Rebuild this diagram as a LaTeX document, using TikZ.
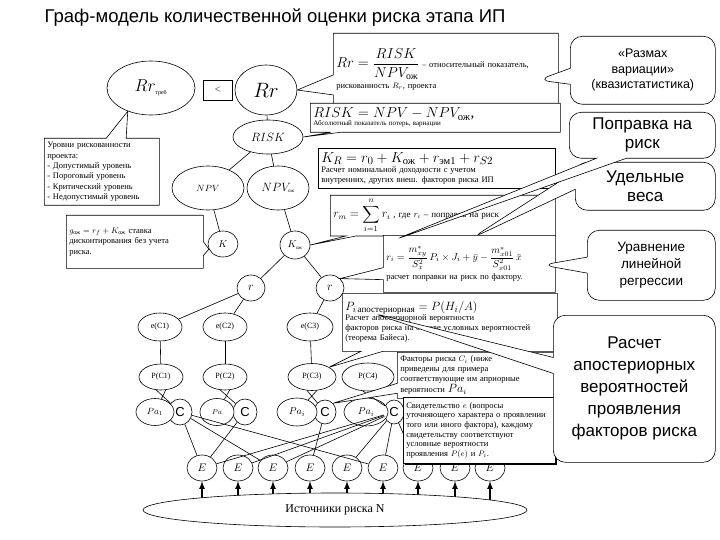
\documentclass[tikz,border=0pt]{standalone}
\usepackage{amsmath}
\usepackage{fontspec}
\setmainfont{Liberation Serif}
\setsansfont{Liberation Sans}
\usetikzlibrary{shapes.geometric,shapes.callouts,shadows}
\newcommand\smtxt{\fontsize{8.5}{10}\selectfont}

\begin{document}
\begin{tikzpicture}
  [x=1pt,y=-1pt,line width=.6pt,
   el/.style={ellipse,draw,fill=white,inner sep=0pt},
   plainbox/.style={rectangle,draw,fill=white,align=left,inner sep=3pt,anchor=north west,font=\smtxt},
   cbox/.style={rectangle callout,draw,fill=white,align=left,inner sep=3pt,anchor=north west,font=\smtxt},
   bubble/.style={rectangle callout,draw,fill=white,rounded corners=12pt,align=center,
     inner sep=4pt,anchor=north west},
   arr/.style={-latex,line width=1.6pt}]
  \useasboundingbox (0,0) rectangle (720,540);

  \node[font=\sffamily\fontsize{18.5}{20}\selectfont] (title) at (275,18)
    {Граф-модель количественной оценки риска этапа ИП};

  % upper part of the tree
  \node[el,minimum width=88pt,minimum height=54pt] (rt) at (151,88)
    {\fontsize{16}{16}\selectfont $Rr_{\text{\fontsize{6}{6}\selectfont треб}}$};
  \node[draw,fill=white,minimum width=29pt,minimum height=20pt] (lt) at (218,90)
    {\fontsize{8}{8}\selectfont $<$};
  \node[el,minimum width=62pt,minimum height=50pt] (rr) at (266,90)
    {\fontsize{20}{20}\selectfont $Rr$};
  \node[el,minimum width=70pt,minimum height=34pt] (risk) at (268,137)
    {\fontsize{13}{13}\selectfont $RISK$};
  \node[el,minimum width=72pt,minimum height=44pt] (npv) at (208,188)
    {\fontsize{9}{9}\selectfont $NPV$};
  \node[el,minimum width=62pt,minimum height=44pt] (npvo) at (278,188)
    {\fontsize{13}{13}\selectfont $NPV_{\text{\tiny ож}}$};
  \node[el,minimum width=30pt,minimum height=26pt] (k1) at (223,244)
    {\fontsize{10}{10}\selectfont $K$};
  \node[el,minimum width=30pt,minimum height=28pt] (kx) at (295,245)
    {\fontsize{10}{10}\selectfont $K_{\text{\tiny ож}}$};
  \node[el,minimum width=28pt,minimum height=26pt] (r1) at (251,288)
    {\fontsize{12}{12}\selectfont $r$};
  \node[el,minimum width=28pt,minimum height=26pt] (r2) at (330,288)
    {\fontsize{12}{12}\selectfont $r$};

  % factors
  \node[el,minimum width=44pt,minimum height=28pt,font=\fontsize{8}{8}\selectfont] (ec1) at (160,327) {e(C1)};
  \node[el,minimum width=44pt,minimum height=28pt,font=\fontsize{8}{8}\selectfont] (ec2) at (225,327) {e(C2)};
  \node[el,minimum width=46pt,minimum height=28pt,font=\fontsize{8}{8}\selectfont] (ec3) at (310,327) {e(C3)};
  \node[el,minimum width=44pt,minimum height=26pt,font=\fontsize{8}{8}\selectfont] (pc1) at (161,377) {P(C1)};
  \node[el,minimum width=44pt,minimum height=26pt,font=\fontsize{8}{8}\selectfont] (pc2) at (225,377) {P(C2)};
  \node[el,minimum width=48pt,minimum height=27pt,font=\fontsize{8}{8}\selectfont] (pc3) at (312,377) {P(C3)};
  \node[el,minimum width=52pt,minimum height=28pt,font=\fontsize{8}{8}\selectfont] (pc4) at (368,377) {P(C4)};

  \node[el,minimum width=24pt,minimum height=26pt,font=\sffamily\fontsize{13}{13}\selectfont] (c1) at (180,412) {C};
  \node[el,minimum width=24pt,minimum height=26pt,font=\sffamily\fontsize{13}{13}\selectfont] (c2) at (245,412) {C};
  \node[el,minimum width=22pt,minimum height=24pt,font=\sffamily\fontsize{13}{13}\selectfont] (c3) at (325,412) {C};
  \node[el,minimum width=20pt,minimum height=24pt,font=\sffamily\fontsize{13}{13}\selectfont] (c4) at (394,412) {C};
  \node[el,minimum width=38pt,minimum height=27pt,font=\fontsize{9}{9}\selectfont] (pa1) at (155,412) {$Pa_1$};
  \node[el,minimum width=34pt,minimum height=27pt,font=\fontsize{7}{7}\selectfont] (pa2) at (217,412) {$Pa$};
  \node[el,minimum width=40pt,minimum height=28pt,font=\fontsize{10}{10}\selectfont] (pa3) at (297,412) {$Pa_i$};
  \node[el,minimum width=44pt,minimum height=28pt,font=\fontsize{10}{10}\selectfont] (pa4) at (366,412) {$Pa_i$};

  \foreach \i/\x in {1/202,2/238,3/273,4/310,5/347,6/383,7/418,8/455,9/490}
    \node[el,minimum width=30pt,minimum height=26pt,font=\fontsize{11}{11}\selectfont] (e\i) at (\x,468) {$E$};

  \foreach \from/\to in {rr/risk,risk/npv,risk/npvo,npv/k1,npvo/kx,kx/r1,kx/r2,
    r1/ec1,r1/ec2,r2/ec3,ec1/pc1,ec2/pc2,ec3/pc3}
    \draw (\from) -- (\to);
  \foreach \p/\a/\c in {pc1/pa1/c1,pc2/pa2/c2,pc3/pa3/c3,pc4/pa4/c4}
  {
    \draw (\p.250) -- (\c);
    \draw (\p.290) -- (\a);
  }
  \foreach \from/\to in {c1/e1,c1/e3,c1/e6,c2/e1,c3/e4,c4/e1,c4/e2,c4/e3,c4/e5,c4/e6,c4/e7}
    \draw (\from) -- (\to);

  % sources
  \coordinate (base) at (335,510);
  \foreach \i in {1,...,9}
    \draw[arr] (e\i |- base) -- (e\i);
  \node[el,minimum width=384pt,minimum height=34pt,font=\fontsize{12}{12}\selectfont] (src) at (base)
    {Источники риска N};

  % left boxes
  \node[cbox,minimum width=115pt,minimum height=67pt,text width=109pt,
    callout absolute pointer={(rt.225)},callout pointer width=20pt,
    font=\fontsize{8.5}{10.3}\selectfont] (lev) at (44,138)
    {Уровни рискованности\\проекта:\\- Допустимый уровень\\- Пороговый уровень\\- Критический уровень\\- Недопустимый уровень};
  \node[cbox,minimum width=137pt,minimum height=53pt,text width=131pt,
    callout absolute pointer={(k1.200)},callout pointer width=14pt,
    font=\fontsize{8.5}{10.5}\selectfont] (gk) at (66,215)
    {$g_{\text{ож}}=r_f+K_{\text{ож}}$ ставка\\дисконтирования без учета\\риска.\\[12pt]};

  % formula boxes
  \node[cbox,minimum width=225pt,minimum height=72pt,text width=219pt,
    callout absolute pointer={(rr.east)},callout pointer width=20pt] (brr) at (333,33)
    {{\fontsize{14}{16}\selectfont $Rr=\dfrac{RISK}{NPV_{\text{ож}}}$} -- относительный показатель,\\[2pt]
     рискованность $R_{r}$, проекта};
  \node[cbox,minimum width=250pt,minimum height=29pt,text width=244pt,
    callout absolute pointer={(risk.east)},callout pointer width=10pt,
    font=\fontsize{7}{8}\selectfont] (brisk) at (310,103)
    {{\fontsize{15}{16}\selectfont $RISK=NPV-NPV_{\text{ож}}$,}\\
     Абсолютный показатель потерь, вариации};
  \node[plainbox,minimum width=237pt,minimum height=40pt,text width=231pt] (bk) at (318,148)
    {{\fontsize{15}{17}\selectfont $K_R=r_0+K_{\text{ож}}+r_{\text{эм1}}+r_{S2}$}\\
     Расчет номинальной доходности с учетом\\внутренних, других внеш. факторов риска ИП};
  \node[cbox,minimum width=225pt,minimum height=40pt,text width=219pt,
    callout absolute pointer={(kx.east)},callout pointer width=10pt,
    font=\fontsize{9}{10}\selectfont] (brm) at (330,195)
    {{\fontsize{12}{14}\selectfont $r_m=\displaystyle\sum_{i=1}^{n} r_i$}\ , где $r_i$ -- поправка на риск};
  \node[cbox,minimum width=172pt,minimum height=57pt,text width=166pt,
    callout absolute pointer={(r2.north east)},callout pointer width=12pt] (bri) at (383,235)
    {{\fontsize{10}{12}\selectfont $r_i=\dfrac{m^*_{xy}}{S^2_x}\,P_i\times J_i+\bar y-\dfrac{m^*_{x01}}{S^2_{x01}}\,\bar x$}\\[3pt]
     расчет поправки на риск по фактору.};
  \node[cbox,minimum width=215pt,minimum height=58pt,text width=209pt,
    callout absolute pointer={(pc3.north east)},callout pointer width=22pt] (bp) at (342,293)
    {{\fontsize{13}{15}\selectfont $P_{i\,\text{апостериорная}}=P(H_i/A)$}\\
     Расчет апостериорной вероятности\\факторов риска на основе условных вероятностей\\(теорема Байеса).};
  \node[cbox,minimum width=158pt,minimum height=46pt,text width=152pt,
    callout absolute pointer={(c3.north east)},callout pointer width=10pt] (bf) at (397,352)
    {Факторы риска $C_i$ (ниже\\приведены для примера\\соответствующие им априорные\\вероятности {\fontsize{12}{12}\selectfont$Pa_i$}};
  \node[plainbox,drop shadow={shadow xshift=2pt,shadow yshift=-2pt,fill=black,opacity=1},
    minimum width=152pt,minimum height=66pt,text width=146pt,
    font=\fontsize{8.5}{9.7}\selectfont] (bev) at (403,397)
    {Свидетельство $e$ (вопросы\\уточняющего характера о проявлении\\того или иного фактора), каждому\\свидетельству соответствуют\\условные вероятности\\проявления $P(e)$ и $P_i$.};

  % comments on the right
  \node[bubble,minimum width=145pt,minimum height=68pt,
    callout absolute pointer={(538,80)},callout pointer width=16pt,
    font=\sffamily\fontsize{12.5}{15.5}\selectfont] (va) at (570,36)
    {«Размах\\вариации»\\(квазистатистика)};
  \node[bubble,minimum width=140pt,minimum height=48pt,
    callout absolute pointer={(472,238)},callout pointer width=18pt,
    font=\sffamily\fontsize{17}{19}\selectfont] (uv) at (575,162)
    {Удельные\\веса};
  \node[bubble,minimum width=146pt,minimum height=46pt,
    callout absolute pointer={(394,240)},callout pointer width=30pt,
    font=\sffamily\fontsize{17}{19}\selectfont] (pr) at (569,112)
    {Поправка на\\риск};
  \node[bubble,minimum width=128pt,minimum height=70pt,
    callout absolute pointer={(542,265)},callout pointer width=16pt,
    font=\sffamily\fontsize{13.5}{17}\selectfont] (ur) at (587,230)
    {Уравнение\\линейной\\регрессии};
  \node[bubble,minimum width=162pt,minimum height=147pt,
    callout absolute pointer={(372,313)},callout pointer width=16pt,
    font=\sffamily\fontsize{17}{22}\selectfont] (ap) at (553,315)
    {Расчет\\апостериорных\\вероятностей\\проявления\\факторов риска};
\end{tikzpicture}
\end{document}
